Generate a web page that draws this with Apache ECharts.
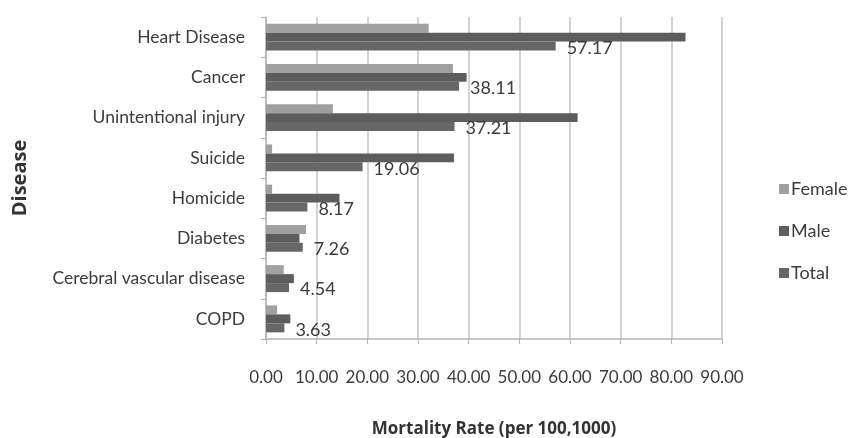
<!DOCTYPE html>
<html>
<head>
<meta charset="utf-8">
<script src="https://cdn.jsdelivr.net/npm/echarts@6/dist/echarts.min.js"></script>
<style>
  html, body { margin: 0; padding: 0; background: #ffffff; }
  #chart { width: 852px; height: 438px; }
</style>
</head>
<body>
<div id="chart"></div>
<script>
// Leading causes of death, mortality rate per 100,000 by sex
const diseases = ['Heart Disease', 'Cancer', 'Unintentional injury', 'Suicide',
                  'Homicide', 'Diabetes', 'Cerebral vascular disease', 'COPD'];
const female = [32.1, 36.9, 13.2, 1.2, 1.2, 7.9, 3.5, 2.2];
const male   = [82.8, 39.6, 61.5, 37.1, 14.5, 6.6, 5.5, 4.8];
const total  = [57.17, 38.11, 37.21, 19.06, 8.17, 7.26, 4.54, 3.63];
const xTicks = [0, 10, 20, 30, 40, 50, 60, 70, 80, 90];

const FONT = 'Lato';
const TEXT = '#3c3c3c';
const chart = echarts.init(document.getElementById('chart'), null, { renderer: 'canvas' });

chart.setOption({
  animation: false,
  backgroundColor: '#ffffff',
  textStyle: { fontFamily: FONT },
  grid: { left: 266, right: 130, top: 17, bottom: 99, containLabel: false, outerBoundsMode: 'none' },
  legend: {
    orient: 'vertical',
    left: 774,
    top: 175,
    itemWidth: 10,
    itemHeight: 10,
    itemGap: 24,
    icon: 'rect',
    textStyle: { fontFamily: FONT, fontSize: 18, color: TEXT, padding: [0, 0, 0, -3] },
    data: ['Female', 'Male', 'Total']
  },
  xAxis: {
    type: 'value',
    min: xTicks[0],
    max: xTicks[xTicks.length - 1],
    interval: 10,
    name: 'Mortality Rate (per 100,1000)',
    nameLocation: 'middle',
    nameGap: 82,
    nameTextStyle: { fontFamily: 'Open Sans', fontSize: 17, fontWeight: 'bold', color: '#333' },
    axisLine: { show: true, lineStyle: { color: '#b5b5b5', width: 1.5 } },
    axisTick: { show: true, length: 5, lineStyle: { color: '#b5b5b5' } },
    axisLabel: {
      fontFamily: FONT, fontSize: 17, color: TEXT, margin: 30,
      formatter: v => v.toFixed(2)
    },
    splitLine: { show: true, lineStyle: { color: '#c4c4c4', width: 1.5 } }
  },
  yAxis: {
    type: 'category',
    data: diseases,
    inverse: true,
    name: 'Disease',
    nameLocation: 'middle',
    nameGap: 236,
    nameRotate: 90,
    nameTextStyle: { fontFamily: 'Open Sans', fontSize: 20, fontWeight: 'bold', color: '#333' },
    axisLine: { show: true, lineStyle: { color: '#b5b5b5', width: 1.5 } },
    axisTick: { show: true, length: 5, lineStyle: { color: '#b5b5b5' } },
    axisLabel: { fontFamily: FONT, fontSize: 17.5, color: TEXT, margin: 21 }
  },
  series: [
    {
      name: 'Female', type: 'bar', data: female,
      barGap: '0%', barCategoryGap: '33%',
      itemStyle: { color: '#a0a0a0' }
    },
    {
      name: 'Male', type: 'bar', data: male,
      barGap: '0%', barCategoryGap: '33%',
      itemStyle: { color: '#5d5d5d' }
    },
    {
      name: 'Total', type: 'bar', data: total,
      barGap: '0%', barCategoryGap: '33%',
      itemStyle: { color: '#676767' },
      label: {
        show: true, position: 'right', distance: 11, offset: [0, 2],
        fontFamily: FONT, fontSize: 18, color: TEXT,
        formatter: p => p.value.toFixed(2)
      }
    }
  ]
});
</script>
</body>
</html>
